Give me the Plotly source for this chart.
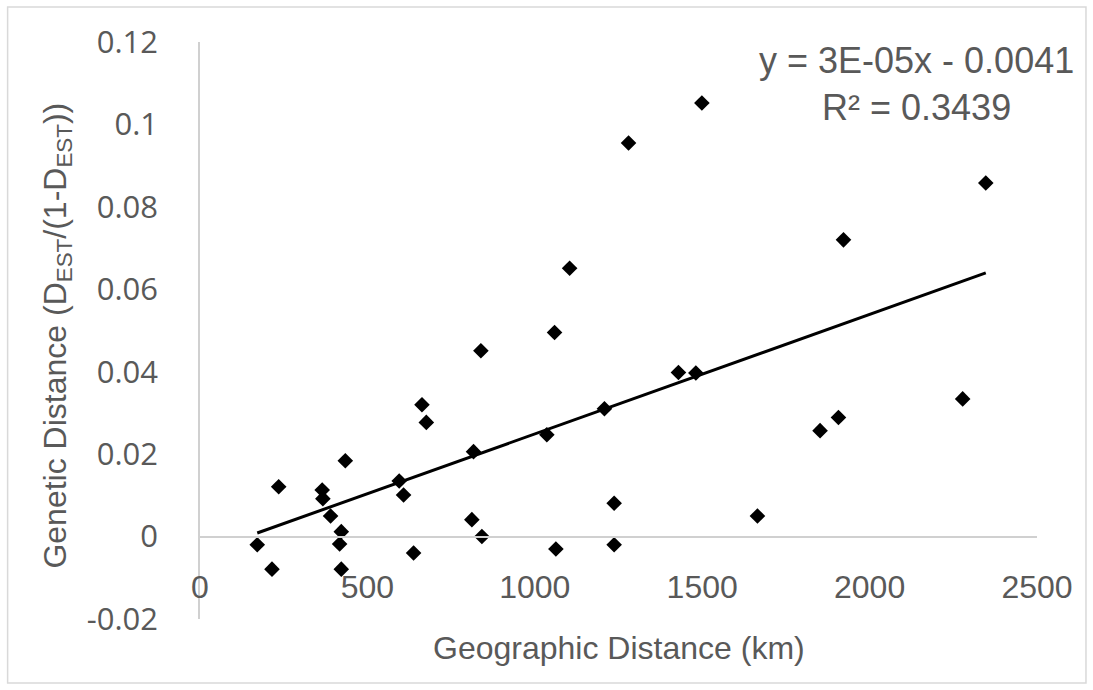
import plotly.graph_objects as go

# Data
distance_km = [171, 215, 235, 365, 367, 390, 417, 422, 422, 434, 595, 608, 638,
               663, 676, 812, 817, 839, 842, 1036, 1059, 1063, 1104, 1208, 1237,
               1237, 1280, 1429, 1481, 1499, 1665, 1852, 1907, 1922, 2278, 2347]
genetic_distance = [-0.0020, -0.0079, 0.0121, 0.0113, 0.0092, 0.0050, -0.0018,
                    0.0012, -0.0079, 0.0184, 0.0135, 0.0101, -0.0040, 0.0320,
                    0.0277, 0.0041, 0.0206, 0.0451, 0.0000, 0.0247, 0.0495,
                    -0.0030, 0.0651, 0.0310, 0.0081, -0.0020, 0.0955, 0.0398,
                    0.0397, 0.1052, 0.0050, 0.0257, 0.0289, 0.0720, 0.0334, 0.0858]

trend_slope = 2.9e-5
trend_intercept = -0.0041
equation_text = "y = 3E-05x - 0.0041<br>R² = 0.3439"

x_ticks = [0, 500, 1000, 1500, 2000, 2500]
y_ticks = [-0.02, 0, 0.02, 0.04, 0.06, 0.08, 0.1, 0.12]
y_tick_labels = ["-0.02", "0", "0.02", "0.04", "0.06", "0.08", "0.1", "0.12"]

x_min, x_max = min(distance_km), max(distance_km)
trend_x = [x_min, x_max]
trend_y = [trend_slope * v + trend_intercept for v in trend_x]

W, H = 1093, 690
ml, mr, mt, mb = 199.5, 56, 42, 71
pw, ph = W - ml - mr, H - mt - mb

fig = go.Figure()
fig.add_trace(go.Scatter(x=trend_x, y=trend_y, mode="lines",
                         line=dict(color="black", width=3), showlegend=False,
                         hoverinfo="skip"))
fig.add_trace(go.Scatter(x=distance_km, y=genetic_distance, mode="markers",
                         marker=dict(symbol="diamond", size=12, color="black"),
                         showlegend=False))

gray_text = "#595959"
line_gray = "#D0D0D0"

fig.update_layout(
    width=W, height=H,
    margin=dict(l=ml, r=mr, t=mt, b=mb, pad=0),
    paper_bgcolor="white", plot_bgcolor="white",
    xaxis=dict(range=[0, 2500], tickvals=x_ticks, showgrid=False, zeroline=False,
               showline=True, linecolor=line_gray, linewidth=1.5,
               anchor="free", position=0.02 / 0.14,
               ticks="outside", ticklen=22, tickcolor="rgba(0,0,0,0)",
               tickfont=dict(family="Liberation Sans, Arial", size=32, color=gray_text)),
    yaxis=dict(range=[-0.02, 0.12], tickvals=y_ticks, ticktext=y_tick_labels,
               showgrid=False, zeroline=False,
               showline=True, linecolor=line_gray, linewidth=1.5,
               ticks="outside", ticklen=34, tickcolor="rgba(0,0,0,0)",
               tickfont=dict(family="Open Sans", size=31, color=gray_text)),
    annotations=[
        dict(text=equation_text, xref="paper", yref="paper",
             x=(916 - ml) / pw, y=(H - mb - 84) / ph, xanchor="center", yanchor="middle",
             showarrow=False, align="center",
             font=dict(family="Liberation Sans, Arial", size=36, color=gray_text)),
        dict(text="Geographic Distance (km)", xref="paper", yref="paper",
             x=0.5, y=(H - mb - 648) / ph, xanchor="center", yanchor="middle",
             showarrow=False,
             font=dict(family="Liberation Sans, Arial", size=32, color=gray_text)),
        dict(text="Genetic Distance (D<sub>EST</sub>/(1-D<sub>EST</sub>))",
             xref="paper", yref="paper", textangle=-90,
             x=(57 - ml) / pw, y=(H - mb - 336) / ph, xanchor="center", yanchor="middle",
             showarrow=False,
             font=dict(family="Liberation Sans, Arial", size=32, color=gray_text)),
    ],
    shapes=[
        dict(type="rect", xref="paper", yref="paper",
             x0=(7 - ml) / pw, x1=(W - 7 - ml) / pw,
             y0=(H - mb - (H - 7)) / ph, y1=(H - mb - 7) / ph,
             line=dict(color="#D9D9D9", width=1.5), fillcolor="rgba(0,0,0,0)", layer="below"),
    ],
)

fig.write_html("out.html")
